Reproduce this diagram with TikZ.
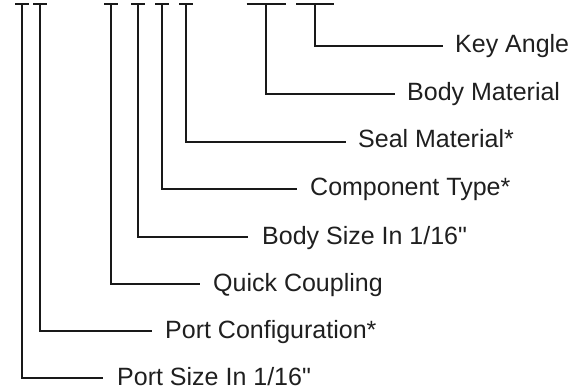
\documentclass[tikz,border=0pt]{standalone}
\usepackage{fontspec}
\setmainfont{Liberation Sans}[Ligatures=TeXOff]
\begin{document}
\begin{tikzpicture}[x=1pt,y=-1pt,
  lbl/.style={anchor=base west,inner sep=0pt,font=\fontsize{25}{29}\selectfont,text=black!88},
  lead/.style={line width=2.4pt,line cap=butt,line join=miter,black!90},
  tbar/.style={line width=2.4pt,line cap=butt,black!90}]
\useasboundingbox (0,0) rectangle (575,390);
% labels (baseline below the leader line)
\node[lbl] (l1) at (117,385) {Port Size In 1/16"};
\node[lbl] (l2) at (165,338) {Port Configuration*};
\node[lbl] (l3) at (213,291) {Quick Coupling};
\node[lbl] (l4) at (262,244) {Body Size In 1/16"};
\node[lbl] (l5) at (310,196) {Component Type*};
\node[lbl] (l6) at (358,148) {Seal Material*};
\node[lbl] (l7) at (407,101) {Body Material};
\node[lbl] (l8) at (455,53) {Key Angle};
% tops of the stems
\coordinate (t1) at (22,4);
\coordinate (t2) at (40,4);
\coordinate (t3) at (111,4);
\coordinate (t4) at (138,4);
\coordinate (t5) at (162,4);
\coordinate (t6) at (186,4);
\coordinate (t7) at (266,4);
\coordinate (t8) at (315,4);
% line ends
\coordinate (e1) at (103,378);
\coordinate (e2) at (152,331);
\coordinate (e3) at (200,284);
\coordinate (e4) at (248,237);
\coordinate (e5) at (297,189);
\coordinate (e6) at (346,142);
\coordinate (e7) at (395,94);
\coordinate (e8) at (443,46);
% T bars and leaders
\foreach \i/\w in {1/7,2/7,3/7,4/7,5/7,6/7,7/19.5,8/19}{
  \draw[tbar] ([xshift=-\w pt]t\i) -- ([xshift=\w pt]t\i);
  \draw[lead] (t\i) |- (e\i);
}
\end{tikzpicture}
\end{document}
